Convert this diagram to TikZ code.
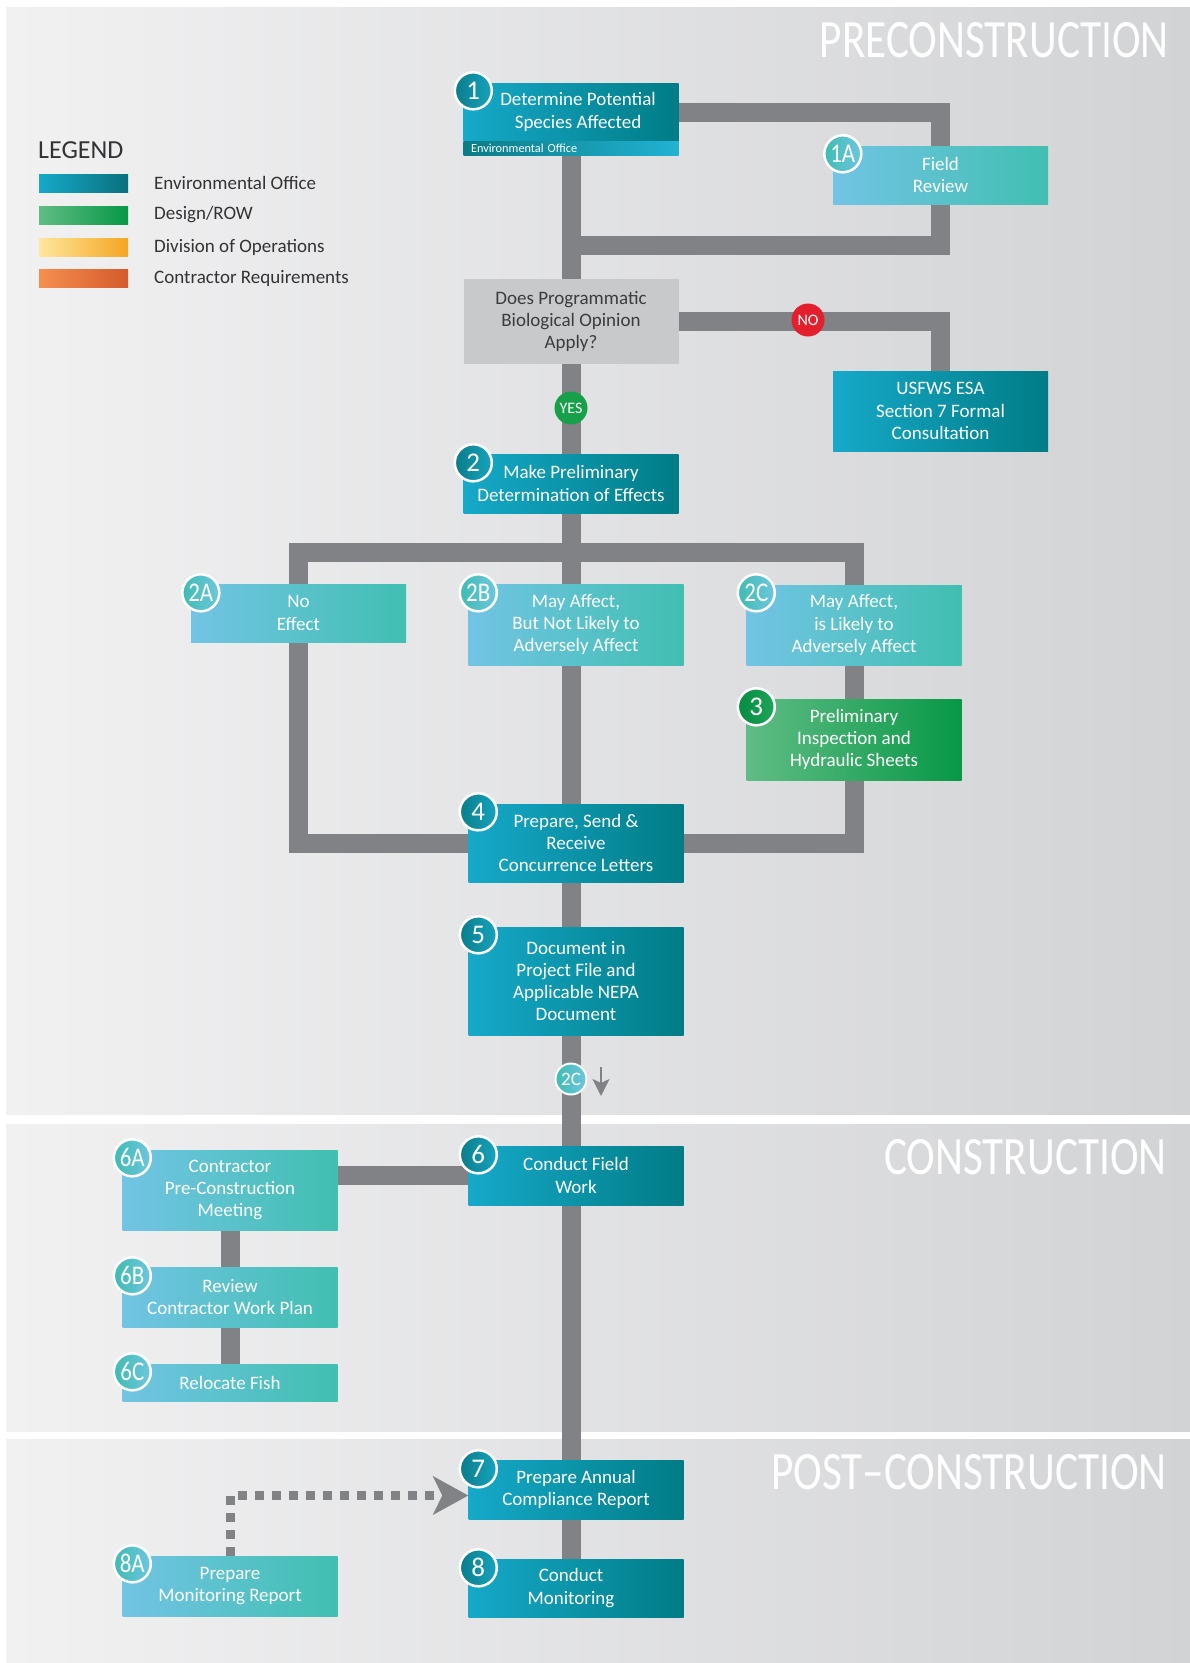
\documentclass[tikz,border=0pt]{standalone}
\usepackage{fontspec}
\setmainfont{Carlito}
\usetikzlibrary{arrows.meta,calc}

% palette
\definecolor{bgL}{HTML}{F1F1F2}
\definecolor{bgR}{HTML}{D2D3D5}
\definecolor{envL}{HTML}{16A9C9}
\definecolor{envR}{HTML}{007C86}
\definecolor{litL}{HTML}{72C4E4}
\definecolor{litR}{HTML}{41BFB1}
\definecolor{grnL}{HTML}{60BC85}
\definecolor{grnR}{HTML}{079846}
\definecolor{decfill}{HTML}{C8C9CB}
\definecolor{dectext}{HTML}{3C3C3E}
\definecolor{pipe}{HTML}{808285}
\definecolor{cdL}{HTML}{0A7D8B}
\definecolor{cdR}{HTML}{16A3BD}
\definecolor{clL}{HTML}{3FBCB2}
\definecolor{clR}{HTML}{6EC6DF}
\definecolor{cgL}{HTML}{078C43}
\definecolor{cgR}{HTML}{1EA558}
\definecolor{stripL}{HTML}{0B7C87}
\definecolor{stripR}{HTML}{22B2D3}
\definecolor{yesfill}{HTML}{17A04A}
\definecolor{nofill}{HTML}{E31E2D}
\definecolor{yelL}{HTML}{FEE79C}
\definecolor{yelM}{HTML}{FFC907}
\definecolor{yelR}{HTML}{F5A623}
\definecolor{orL}{HTML}{F58F4F}
\definecolor{orM}{HTML}{EE6C23}
\definecolor{orR}{HTML}{D55A2C}
\definecolor{legtext}{HTML}{333335}

\pgfdeclarelayer{panel}
\pgfdeclarelayer{wire}
\pgfsetlayers{panel,wire,main}

\begin{document}
\begin{tikzpicture}[x=1pt,y=-1pt,
  box/.style={rectangle, minimum width=215, inner sep=0pt, align=center,
    text=white, font=\fontsize{19}{22.3}\selectfont},
  darkbox/.style={box, left color=envL, right color=envR},
  lightbox/.style={box, left color=litL, right color=litR},
  greenbox/.style={box, left color=grnL, right color=grnR},
  decisionbox/.style={box, fill=decfill, text=dectext},
  badge/.style={circle, minimum size=37, inner sep=0pt, draw=white,
    line width=2.5pt, text=white, font=\fontsize{27}{27}\selectfont},
  badgedark/.style={badge, left color=cdL, right color=cdR},
  badgelight/.style={badge, left color=clL, right color=clR},
  badgegreen/.style={badge, left color=cgL, right color=cgR},
  answer/.style={circle, minimum size=33, inner sep=0pt, text=white,
    font=\fontsize{16}{16}\selectfont},
  pipeline/.style={draw=pipe, line width=19pt},
  dotline/.style={draw=pipe, line width=9pt, dash pattern=on 9pt off 8pt,
    -{Stealth[length=35pt,width=38pt,inset=9pt]}},
  phase/.style={anchor=base east, text=white, inner sep=0pt,
    font=\fontsize{54}{54}\selectfont},
  legendlabel/.style={anchor=west, inner sep=0pt, text=legtext,
    font=\fontsize{19}{22}\selectfont}
]
\useasboundingbox (0,0) rectangle (1190,1663);

% phase panels
\begin{pgfonlayer}{panel}
  \fill[white] (0,0) rectangle (1190,1663);
  \shade[left color=bgL, right color=bgR] (6,7) rectangle (1190,1114);
  \shade[left color=bgL, right color=bgR] (6,1124) rectangle (1190,1431);
  \shade[left color=bgL, right color=bgR] (6,1439) rectangle (1190,1663);
\end{pgfonlayer}

\node[phase] (ph1) at (1169,57) {\scalebox{0.8}[1]{PRECONSTRUCTION}};
\node[phase] (ph2) at (1167,1174) {\scalebox{0.8}[1]{CONSTRUCTION}};
\node[phase] (ph3) at (1167,1489) {\scalebox{0.8}[1]{POST–CONSTRUCTION}};

% legend
\node[anchor=base west, inner sep=0pt, text=legtext,
  font=\fontsize{26}{26}\selectfont] (legtitle) at (38,158) {LEGEND};
\shade[left color=envL, right color=cdL!90!black] (39,174) rectangle (128,192);
\shade[left color=grnL, right color=grnR] (39,206) rectangle (128,224);
\shade[left color=yelL, middle color=yelM, right color=yelR] (39,238) rectangle (128,256);
\shade[left color=orL, middle color=orM, right color=orR] (39,269) rectangle (128,287);
\node[legendlabel] (lg1) at (154,183) {Environmental Office};
\node[legendlabel] (lg2) at (154,215) {Design/ROW};
\node[legendlabel] (lg3) at (154,247) {Division of Operations};
\node[legendlabel] (lg4) at (154,278) {Contractor Requirements};

% preconstruction steps
\node[darkbox, minimum height=58] (b1) at (571,112) {\hspace*{14pt}Determine Potential\\\hspace*{14pt}Species Affected};
\node[box, minimum height=14, left color=stripL, right color=stripR,
  text width=200, align=left, font=\fontsize{12.3}{13}\selectfont] (b1s) at (571,148) {Environmental Office};
\node[lightbox, minimum height=58] (b1a) at (940.5,175) {Field\\Review};
\node[decisionbox, minimum height=85] (dec) at (571,321.5) {Does Programmatic\\Biological Opinion\\Apply?};
\node[darkbox, minimum height=80] (usf) at (940.5,411) {USFWS ESA\\Section 7 Formal\\Consultation};
\node[darkbox, minimum height=59] (b2) at (571,483.5) {Make Preliminary\\Determination of Effects};
\node[lightbox, minimum height=58] (b2a) at (298.5,613) {No\\Effect};
\node[lightbox, minimum height=81] (b2b) at (576,624.5) {May Affect,\\But Not Likely to\\Adversely Affect};
\node[lightbox, minimum height=80] (b2c) at (854,625) {May Affect,\\is Likely to\\Adversely Affect};
\node[greenbox, minimum height=81] (b3) at (854,739.5) {Preliminary\\Inspection and\\Hydraulic Sheets};
\node[darkbox, minimum height=78] (b4) at (576,843) {Prepare, Send \&\\Receive\\Concurrence Letters};
\node[darkbox, minimum height=108] (b5) at (576,981) {Document in\\Project File and\\Applicable NEPA\\Document};

% construction steps
\node[darkbox, minimum height=59] (b6) at (576,1175.5) {Conduct Field\\Work};
\node[lightbox, minimum height=80] (b6a) at (230,1190) {Contractor\\Pre-Construction\\Meeting};
\node[lightbox, minimum height=60] (b6b) at (230,1297) {Review\\Contractor Work Plan};
\node[lightbox, minimum height=37] (b6c) at (230,1382.5) {Relocate Fish};

% post-construction steps
\node[darkbox, minimum height=59] (b7) at (576,1489.5) {Prepare Annual\\Compliance Report};
\node[darkbox, minimum height=58] (b8) at (576,1588) {Conduct\hspace*{10pt}\\Monitoring\hspace*{10pt}};
\node[lightbox, minimum height=60] (b8a) at (230,1586) {Prepare\\Monitoring Report};

% junction points of the flow lines
\coordinate (j1) at (571,245);
\coordinate (split) at (571,552);
\coordinate (a1) at (601,1067);
\coordinate (a2) at (601,1096);

% flow lines
\begin{pgfonlayer}{wire}
  \draw[pipeline] (b1.east) -| (b1a.north);
  \draw[pipeline] (b1a.south) |- (j1);
  \draw[pipeline] (b1s.south -| j1) -- (dec.north -| j1);
  \draw[pipeline] (dec.east) -| (usf.north);
  \draw[pipeline] (dec.south -| j1) -- (b2.north -| j1);
  \draw[pipeline] (b2.south -| split) -- (split);
  \draw[pipeline] (b2a.north) |- (split) -| (b2c.north);
  \draw[pipeline] (split) -- (b2b.north -| split);
  \draw[pipeline] (b2a.south) |- (b4.west);
  \draw[pipeline] (b2b.south -| split) -- (b4.north -| split);
  \draw[pipeline] (b2c.south) -- (b3.north);
  \draw[pipeline] (b3.south) |- (b4.east);
  \draw[pipeline] (b4.south -| split) -- (b5.north -| split);
  \draw[pipeline] (b5.south -| split) -- (b6.north -| split);
  \draw[pipeline] (b6.west) -- (b6.west -| b6a.east);
  \draw[pipeline] (b6a.south) -- (b6b.north);
  \draw[pipeline] (b6b.south) -- (b6c.north);
  \draw[pipeline] (b6.south -| split) -- (b7.north -| split);
  \draw[pipeline] (b7.south -| split) -- (b8.north -| split);
\end{pgfonlayer}
\draw[dotline] (b8a.north) |- ([yshift=-6pt]b7.west);
\draw[draw=pipe, line width=2.2pt, -{Stealth[length=17pt,width=17pt,inset=4pt]}] (a1) -- (a2);

% answers on the decision branches
\node[answer, fill=nofill] (no) at (808,320) {NO};
\node[answer, fill=yesfill] (yes) at (571,408) {YES};

% step badges
\node[badgedark] (n1) at ([shift={(10,8)}]b1.north west) {1};
\node[badgelight] (n1a) at ([shift={(10,8)}]b1a.north west) {\scalebox{0.85}[1]{1A}};
\node[badgedark] (n2) at ([shift={(10,9)}]b2.north west) {2};
\node[badgelight] (n2a) at ([shift={(10,9)}]b2a.north west) {\scalebox{0.85}[1]{2A}};
\node[badgelight] (n2b) at ([shift={(10,9)}]b2b.north west) {\scalebox{0.85}[1]{2B}};
\node[badgelight] (n2c) at ([shift={(10,8)}]b2c.north west) {\scalebox{0.85}[1]{2C}};
\node[badgegreen] (n3) at ([shift={(10,8)}]b3.north west) {3};
\node[badgedark] (n4) at ([shift={(10,8)}]b4.north west) {4};
\node[badgedark] (n5) at ([shift={(10,8)}]b5.north west) {5};
\node[badgedark] (n6) at ([shift={(10,9)}]b6.north west) {6};
\node[badgelight] (n6a) at ([shift={(10,8)}]b6a.north west) {\scalebox{0.85}[1]{6A}};
\node[badgelight] (n6b) at ([shift={(10,9)}]b6b.north west) {\scalebox{0.85}[1]{6B}};
\node[badgelight] (n6c) at ([shift={(10,8)}]b6c.north west) {\scalebox{0.85}[1]{6C}};
\node[badgedark] (n7) at ([shift={(10,9)}]b7.north west) {7};
\node[badgedark] (n8) at ([shift={(10,9)}]b8.north west) {8};
\node[badgelight] (n8a) at ([shift={(10,8)}]b8a.north west) {\scalebox{0.85}[1]{8A}};
\node[badgelight, minimum size=31, line width=2pt,
  font=\fontsize{19}{19}\selectfont] (n2cref) at (571,1079) {2C};
\end{tikzpicture}
\end{document}
